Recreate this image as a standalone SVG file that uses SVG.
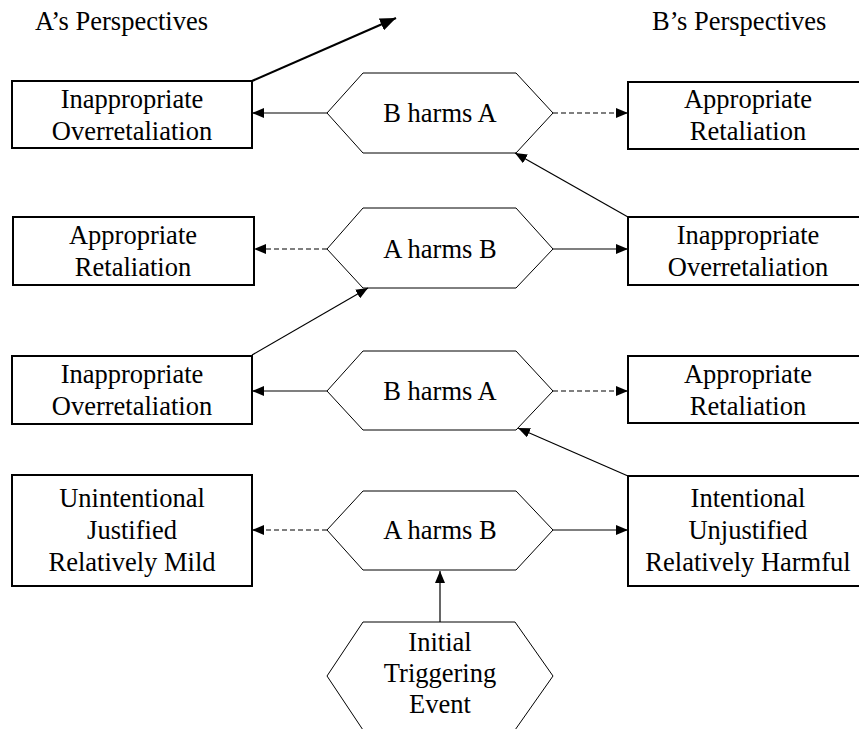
<svg xmlns="http://www.w3.org/2000/svg" width="859" height="729" viewBox="0 0 859 729" font-family="'Liberation Serif', 'DejaVu Serif', serif">
  <style>
    text { font-family: 'Liberation Serif', 'DejaVu Serif', serif; font-size: 26.5px; fill: #000; }
    .c { text-anchor: middle; }
    .box { fill: #fff; stroke: #000; stroke-width: 2; }
    .hex { fill: #fff; stroke: #000; stroke-width: 1; }
    .ln { fill: none; stroke: #000; stroke-width: 1.2; }
    .dash { stroke-dasharray: 5 3; }
  </style>
  <defs>
    <marker id="arr" viewBox="0 0 12 10" refX="12" refY="5" markerWidth="12" markerHeight="10" orient="auto" markerUnits="userSpaceOnUse">
      <path d="M0,0 L12,5 L0,10 z" fill="#000"/>
    </marker>
    <marker id="arrBig" viewBox="0 0 16 13" refX="16" refY="6.5" markerWidth="16" markerHeight="13" orient="auto" markerUnits="userSpaceOnUse">
      <path d="M0,0 L16,6.5 L0,13 z" fill="#000"/>
    </marker>
  </defs>

  <!-- column headings -->
  <text x="35" y="30">A’s Perspectives</text>
  <text x="652" y="30">B’s Perspectives</text>

  <!-- row 1 -->
  <g id="a-overretaliation-1">
    <rect class="box" x="12" y="81" width="240" height="67"/>
    <text class="c" x="132" y="107.5">Inappropriate</text>
    <text class="c" x="132" y="139.5">Overretaliation</text>
  </g>
  <g id="b-harms-a-1">
    <polygon class="hex" points="327,113 363,73 516,73 553,113 516,153 363,153"/>
    <text class="c" x="440" y="122">B harms A</text>
  </g>
  <g id="b-retaliation-1">
    <rect class="box" x="628" y="82" width="240" height="67"/>
    <text class="c" x="748" y="108">Appropriate</text>
    <text class="c" x="748" y="140">Retaliation</text>
  </g>

  <!-- row 2 -->
  <g id="a-retaliation-2">
    <rect class="box" x="13" y="217" width="241" height="68"/>
    <text class="c" x="133" y="244">Appropriate</text>
    <text class="c" x="133" y="276">Retaliation</text>
  </g>
  <g id="a-harms-b-2">
    <polygon class="hex" points="327,249 363,208 516,208 553,249 516,288 363,288"/>
    <text class="c" x="440" y="258">A harms B</text>
  </g>
  <g id="b-overretaliation-2">
    <rect class="box" x="628" y="217" width="240" height="68"/>
    <text class="c" x="748" y="244">Inappropriate</text>
    <text class="c" x="748" y="276">Overretaliation</text>
  </g>

  <!-- row 3 -->
  <g id="a-overretaliation-3">
    <rect class="box" x="12" y="356" width="240" height="68"/>
    <text class="c" x="132" y="383">Inappropriate</text>
    <text class="c" x="132" y="415">Overretaliation</text>
  </g>
  <g id="b-harms-a-3">
    <polygon class="hex" points="327,391 363,351 516,351 553,391 516,430 363,430"/>
    <text class="c" x="440" y="400">B harms A</text>
  </g>
  <g id="b-retaliation-3">
    <rect class="box" x="628" y="356" width="240" height="67"/>
    <text class="c" x="748" y="382.5">Appropriate</text>
    <text class="c" x="748" y="414.5">Retaliation</text>
  </g>

  <!-- row 4 -->
  <g id="a-view-initial">
    <rect class="box" x="12" y="475" width="240" height="111"/>
    <text class="c" x="132" y="506.5">Unintentional</text>
    <text class="c" x="132" y="538.5">Justified</text>
    <text class="c" x="132" y="570.5">Relatively Mild</text>
  </g>
  <g id="a-harms-b-4">
    <polygon class="hex" points="327,530 363,491 516,491 553,530 516,570 363,570"/>
    <text class="c" x="440" y="539">A harms B</text>
  </g>
  <g id="b-view-initial">
    <rect class="box" x="628" y="476" width="240" height="110"/>
    <text class="c" x="748" y="507">Intentional</text>
    <text class="c" x="748" y="539">Unjustified</text>
    <text class="c" x="748" y="571">Relatively Harmful</text>
  </g>

  <!-- starting event -->
  <g id="initial-event">
    <polygon class="hex" points="327,676 363,622 515,622 553,676 515,730 363,730"/>
    <text class="c" x="440" y="651">Initial</text>
    <text class="c" x="440" y="682">Triggering</text>
    <text class="c" x="440" y="713">Event</text>
  </g>

  <!-- connectors -->
  <g id="connectors">
    <line class="ln" x1="327" y1="113" x2="252" y2="113" marker-end="url(#arr)"/>
    <line class="ln dash" x1="553" y1="113" x2="628" y2="113" marker-end="url(#arr)"/>
    <line x1="252" y1="81" x2="396" y2="18" stroke="#000" stroke-width="2.2" marker-end="url(#arrBig)"/>

    <line class="ln dash" x1="327" y1="249" x2="254" y2="249" marker-end="url(#arr)"/>
    <line class="ln" x1="553" y1="249" x2="628" y2="249" marker-end="url(#arr)"/>
    <line class="ln" x1="628" y1="217" x2="515" y2="153" marker-end="url(#arr)"/>

    <line class="ln" x1="327" y1="391" x2="252" y2="391" marker-end="url(#arr)"/>
    <line class="ln dash" x1="553" y1="391" x2="628" y2="391" marker-end="url(#arr)"/>
    <line class="ln" x1="252" y1="355" x2="368" y2="288" marker-end="url(#arr)"/>

    <line class="ln dash" x1="327" y1="530" x2="252" y2="530" marker-end="url(#arr)"/>
    <line class="ln" x1="553" y1="530" x2="628" y2="530" marker-end="url(#arr)"/>
    <line class="ln" x1="628" y1="476" x2="518" y2="428" marker-end="url(#arr)"/>

    <line class="ln" x1="440" y1="622" x2="440" y2="571" marker-end="url(#arr)"/>
  </g>
</svg>
